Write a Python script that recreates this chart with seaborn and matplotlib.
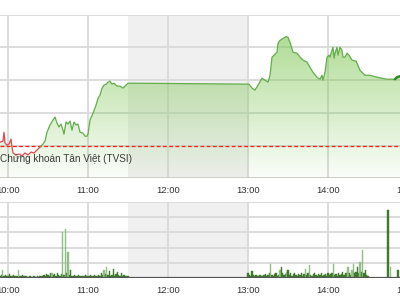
import numpy as np
import pandas as pd
import matplotlib
matplotlib.use("Agg")
import matplotlib.pyplot as plt
import seaborn as sns

# ---------------- data ----------------
# price trace: minutes after 10:00, value relative to reference (gridline units)
price_t = [-6, -3.75, -3, -2.25, -0.75, 0.75, 2.25, 3, 3.75, 6, 8.25, 10.5, 12.75, 15,
           17.25, 19.5, 21.75, 24, 26.25, 27.75, 29.25, 31.5, 33.75, 35.25, 36.75, 38.25,
           39.75, 41.25, 42, 43.5, 45, 46.5, 48, 49.5, 51, 52.5, 54, 56.25, 57.75, 59.25,
           60, 61.5, 63.75, 66, 67.5, 69, 70.5, 72, 73.5, 75, 76.5, 78, 79.5, 81.75, 84,
           86.25, 88.5, 90, 180.75, 183, 185.25, 187.5, 190.5, 192.75, 195, 196.5, 198, 199.5,
           201.75, 202.5, 204, 206.25, 207.75, 208.5, 210, 211.5, 213.75, 216.75, 219, 221.25,
           224.25, 226.5, 228.75, 231.75, 234, 235.5, 236.25, 237.75, 239.25, 240.75, 241.5,
           243, 243.75, 244.5, 245.25, 246.75, 247.5, 249, 250.5, 251.25, 252.75, 254.25,
           255.75, 258, 261, 262.5, 264, 265.5, 267.75, 271.5, 276.75, 284.25, 290.25,
           291.75, 294]
price_v = [0.12, 0.15, 0.42, 0.09, 0.03, 0.06, 0.21, -0.03, -0.21, -0.27, -0.24, -0.30,
           -0.21, -0.27, -0.18, -0.21, -0.12, -0.03, 0.06, 0.15, 0.42, 0.64, 0.79, 0.88,
           0.70, 0.58, 0.67, 0.48, 0.36, 0.73, 0.67, 0.76, 0.48, 0.73, 0.64, 0.67, 0.42,
           0.39, 0.30, 0.30, 0.36, 0.79, 1.00, 1.24, 1.45, 1.55, 1.76, 1.85, 1.88, 1.94,
           1.97, 1.88, 1.91, 1.82, 1.82, 1.76, 1.85, 1.91, 1.88, 1.76, 1.70, 1.85, 2.06,
           2.00, 1.94, 2.15, 2.70, 2.76, 2.85, 3.12, 3.21, 3.27, 3.30, 3.33, 3.30, 3.15,
           2.85, 2.82, 2.70, 2.61, 2.55, 2.39, 2.24, 2.09, 2.03, 2.15, 2.00, 2.24, 2.70,
           2.76, 2.70, 2.91, 3.00, 2.67, 2.82, 3.00, 2.76, 3.00, 2.91, 2.70, 2.70, 2.82,
           2.76, 2.61, 2.58, 2.45, 2.30, 2.24, 2.15, 2.15, 2.09, 2.03, 2.03, 2.09, 2.12]
red_until = 24  # minutes: first part of the session drawn in red

# volume: one bar per minute (gridline units)
vol_am_start = -6
vol_am = [0.15, 0.2, 0.5, 0.1, 0.2, 0.15, 0.1, 0.25, 0.15, 0.1, 0.2, 0.15, 0.1, 0.15,
          0.5, 0.15, 0.1, 0.2, 0.1, 0.15, 0.1, 0.05, 0.15, 0.1, 0.05, 0.1, 0.1, 0.05, 0.1,
          0.05, 0.1, 0.15, 0.1, 0.2, 0.15, 0.25, 0.2, 0.15, 0.3, 0.35, 0.2, 0.25, 0.15,
          0.3, 0.2, 0.15, 0.25, 3.0, 0.2, 3.2, 0.3, 1.7, 0.2, 0.55, 0.15, 0.1, 0.2, 0.15,
          0.1, 0.2, 0.15, 0.1, 0.15, 0.1, 0.2, 0.1, 0.15, 0.1, 0.2, 0.1, 0.15, 0.2, 0.1,
          0.15, 0.2, 0.1, 0.3, 0.2, 0.5, 0.25, 0.72, 0.2, 0.45, 0.15, 0.2, 0.6, 0.15,
          0.25, 0.4, 0.2, 0.15, 0.3, 0.1, 0.2, 0.15, 0.1, 0.1]
vol_pm_start = 180
vol_pm = [0.3, 0.2, 0.15, 0.45, 0.2, 0.15, 0.2, 0.1, 0.15, 0.2, 0.1, 0.15, 0.2, 0.25,
          0.15, 0.2, 0.3, 0.9, 0.2, 0.15, 0.25, 0.3, 0.15, 0.2, 0.5, 0.75, 0.3, 0.2, 0.25,
          0.4, 0.55, 0.2, 0.3, 0.15, 0.25, 0.35, 0.2, 0.15, 0.25, 0.2, 0.3, 0.15, 0.25,
          0.6, 0.2, 0.3, 0.85, 0.2, 0.15, 0.25, 0.3, 0.2, 0.15, 0.25, 0.2, 0.3, 0.15, 0.2,
          0.25, 0.15, 0.3, 0.2, 0.25, 0.35, 0.9, 0.2, 0.25, 0.15, 0.3, 0.2, 0.25, 0.4, 0.2,
          0.3, 0.35, 0.7, 0.3, 0.2, 0.5, 0.9, 0.3, 0.4, 0.7, 0.3, 1.05, 0.4, 1.85, 0.3, 0.5,
          0.2, 0.15]
vol_atc_t = [285, 287, 292.5]
vol_atc = [4.5, 0.7, 0.5]
light_bars = [-4, 8, 33, 41, 43, 45, 72, 74, 197, 204, 209, 223, 226, 244, 255, 258,
              259, 264, 266, 287]

tick_minutes = [0, 60, 120, 180, 240, 300]
tick_labels = ["10:00", "11:00", "12:00", "13:00", "14:00", "15:00"]
break_start, break_end = 90, 180
source_text = "Chứng khoán Tân Việt (TVSI)"

# ---------------- figure ----------------
sns.set_theme(style="white")
plt.rcParams['font.family'] = ['Liberation Sans', 'DejaVu Sans']

fig = plt.figure(figsize=(4, 3), dpi=100)
ax = fig.add_axes([0, 122 / 300, 1, 163 / 300])
axv = fig.add_axes([0, 22 / 300, 1, 76 / 300])

grid_c = "#d9d9d9"
xlim = (-6, 294)

for a in (ax, axv):
    a.axvspan(break_start, break_end, color="#f0f0f0", zorder=0, lw=0)
    for s in a.spines.values():
        s.set_visible(False)
    a.set_xticks([])
    a.tick_params(axis="y", left=False, labelleft=False)
    for m in tick_minutes:
        a.axvline(m, color=grid_c, lw=1.3, zorder=1)

# price panel
ylo, yhi = -0.97, 3.98
ax.set_ylim(ylo, yhi)
for g in [0, 1, 2, 3, 4 - 0.02]:
    ax.axhline(g, color=grid_c, lw=1.3, zorder=1)
ax.axhline(ylo + 0.01, color="#cccccc", lw=1.3, zorder=1)

df = pd.DataFrame({"t": price_t, "v": price_v})
pt = np.array(price_t)
pv = np.array(price_v)

# gradient fill under the line
poly = ax.fill_between(pt, pv, ylo, color="none", lw=0)
grad = np.zeros((256, 1, 4))
base = np.array([0.50, 0.78, 0.33])
alpha = np.linspace(0.62, 0.04, 256)
grad[:, 0, :3] = base
grad[:, 0, 3] = alpha
im = ax.imshow(grad, extent=[xlim[0], xlim[1], ylo, 3.4], origin="upper",
               aspect="auto", zorder=2)
clip = poly.get_paths()[0]
im.set_clip_path(clip, transform=ax.transData)

red_df = df[df.t <= red_until + 1]
green_df = df[df.t >= red_until]
sns.lineplot(data=red_df, x="t", y="v", ax=ax, color="#e0474c", lw=0.9,
             sort=False, zorder=4)
sns.lineplot(data=green_df, x="t", y="v", ax=ax, color="#62ad4a", lw=0.9,
             sort=False, zorder=4)
end_df = df[df.t >= 290]
sns.lineplot(data=end_df, x="t", y="v", ax=ax, color="#2f8a1f", lw=1.8,
             sort=False, zorder=5)
ax.axhline(0, color="#ff1a1a", lw=0.9, ls=(0, (3, 2)), zorder=3)
ax.text(-6, -0.39, source_text, fontsize=7.2, color="#3a3a3a", va="center",
        ha="left", zorder=6)
ax.set_xlabel("")
ax.set_ylabel("")

# volume panel
axv.set_ylim(0, 5)
for g in [1, 2, 3, 4, 5 - 0.02]:
    axv.axhline(g, color=grid_c, lw=1.3, zorder=1)
vt = list(range(vol_am_start, vol_am_start + len(vol_am))) + \
     list(range(vol_pm_start, vol_pm_start + len(vol_pm))) + vol_atc_t
vv = vol_am + vol_pm + vol_atc
vc = ["#93bd86" if t in light_bars else "#3f7a2c" for t in vt]
axv.bar(vt, vv, width=0.85, color=vc, edgecolor=vc, lw=0.3, zorder=3)
axv.axhline(0.02, color="#555555", lw=1.6, zorder=4)
axv.set_xlabel("")
axv.set_ylabel("")

# final limits and time labels (drawn as text so the partly visible 15:00 shows)
for a in (ax, axv):
    a.set_xlim(*xlim)
    for m, lab in zip(tick_minutes, tick_labels):
        a.annotate(lab, xy=(m, 0), xycoords=("data", "axes fraction"),
                   xytext=(0, -5.5), textcoords="offset points", ha="center",
                   va="top", fontsize=6.8, color="#333333", annotation_clip=False)
ax.set_ylim(ylo, yhi)

fig.savefig("out.png", dpi=100)
